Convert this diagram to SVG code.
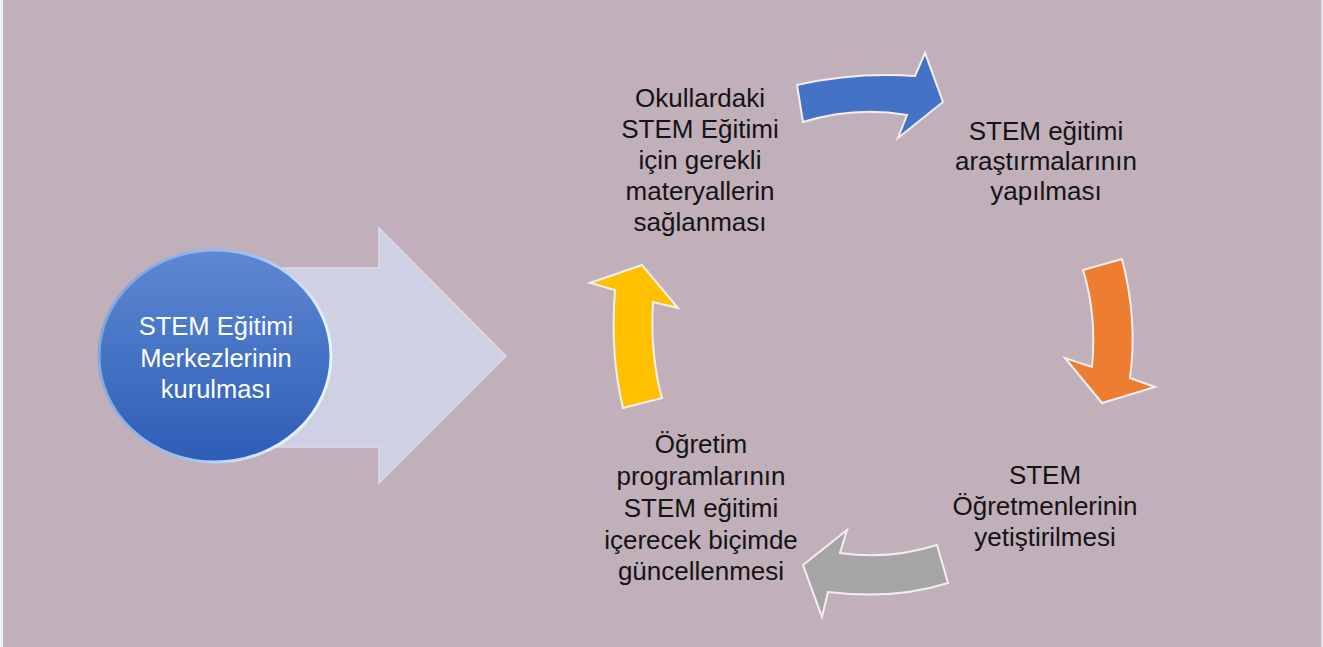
<svg xmlns="http://www.w3.org/2000/svg" width="1323" height="647" viewBox="0 0 1323 647">
<defs>
<style>
.lbl{font-family:"Liberation Sans",Arial,sans-serif;font-size:26px;fill:#141414;text-anchor:middle}
.wl{font-family:"Liberation Sans",Arial,sans-serif;font-size:25.5px;fill:#ffffff;text-anchor:middle}
.ca{stroke:#f4eef2;stroke-width:2;stroke-linejoin:miter}
</style>
<linearGradient id="cg" x1="0" y1="0" x2="0" y2="1">
<stop offset="0" stop-color="#5d88d2"/>
<stop offset="1" stop-color="#2d5db6"/>
</linearGradient>
<linearGradient id="rim" x1="0" y1="0" x2="1" y2="0.3">
<stop offset="0" stop-color="#7aa0dc"/>
<stop offset="0.6" stop-color="#9fc0ee"/>
<stop offset="1" stop-color="#e8f2ff"/>
</linearGradient>
</defs>
<rect x="0" y="0" width="1323" height="647" fill="#c1afb9"/>
<rect x="0" y="0" width="3" height="647" fill="#e6f2f8"/>
<rect x="1321" y="0" width="2" height="647" fill="#e3dce4"/>
<g id="big-arrow">
<path d="M250,268 L379,268 L379,228 L506,356 L379,483 L379,447 L250,447 Z" fill="#cfd0e3" stroke="#dcdcec" stroke-width="1.5"/>
</g>
<g id="center-node">
<ellipse cx="215" cy="356" rx="116" ry="106" fill="url(#cg)" stroke="url(#rim)" stroke-width="3"/>
<text class="wl" x="216" y="335">STEM Eğitimi</text>
<text class="wl" x="216" y="367">Merkezlerinin</text>
<text class="wl" x="216" y="398">kurulması</text>
</g>
<g id="connectors">
<path class="ca" fill="#4472c4" d="M797,85 Q855,72 915,76 L925,53 L943,102 L898,138 L907,115 Q855,106 803,122 Z"/>
<path class="ca" fill="#ed7d31" d="M1083,270 L1122,259 Q1138,320 1130,378 L1155,387 L1102,403 L1065,358 L1092,367 Q1097,315 1083,270 Z"/>
<path class="ca" fill="#a5a5a5" d="M937,545 Q890,560 840,553 L847,530 L803,565 L822,617 L828,592 Q895,600 948,583 Z"/>
<path class="ca" fill="#ffc000" d="M623,408 Q610,355 615,290 L590,283 L642,265 L678,308 L653,302 Q650,355 662,398 Z"/>
</g>
<g id="node-materials">
<text class="lbl" x="700" y="107">Okullardaki</text>
<text class="lbl" x="700" y="138">STEM Eğitimi</text>
<text class="lbl" x="700" y="169">için gerekli</text>
<text class="lbl" x="700" y="200">materyallerin</text>
<text class="lbl" x="700" y="231">sağlanması</text>
</g>
<g id="node-research">
<text class="lbl" x="1046" y="140">STEM eğitimi</text>
<text class="lbl" x="1046" y="170">araştırmalarının</text>
<text class="lbl" x="1046" y="200">yapılması</text>
</g>
<g id="node-teachers">
<text class="lbl" x="1045" y="484">STEM</text>
<text class="lbl" x="1045" y="515">Öğretmenlerinin</text>
<text class="lbl" x="1045" y="546">yetiştirilmesi</text>
</g>
<g id="node-curriculum">
<text class="lbl" x="701" y="453">Öğretim</text>
<text class="lbl" x="701" y="485">programlarının</text>
<text class="lbl" x="701" y="517">STEM eğitimi</text>
<text class="lbl" x="701" y="549">içerecek biçimde</text>
<text class="lbl" x="701" y="580">güncellenmesi</text>
</g>
</svg>
